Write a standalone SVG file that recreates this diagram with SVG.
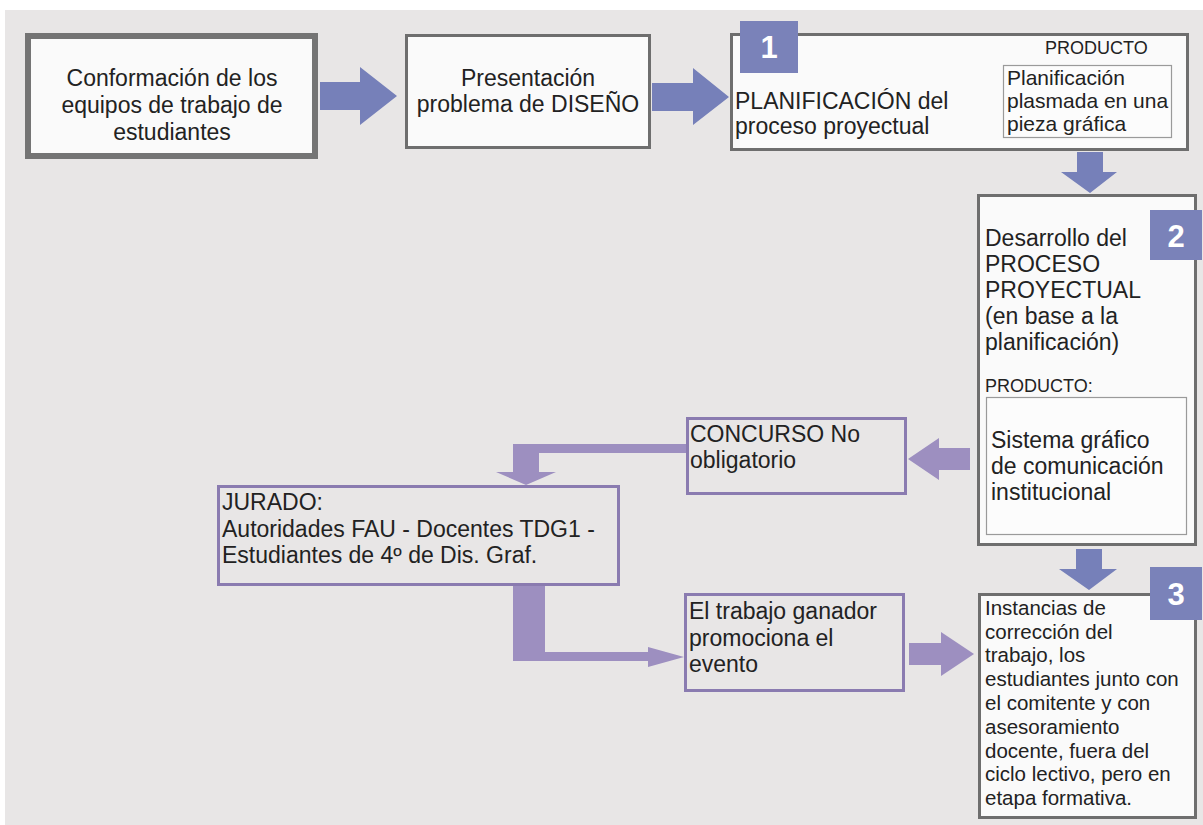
<svg xmlns="http://www.w3.org/2000/svg" width="1203" height="825" viewBox="0 0 1203 825">
<style>
text{font-family:"Liberation Sans",Arial,sans-serif;fill:#222;}
.t23{font-size:23px;}
.t21{font-size:21px;}
.t20{font-size:20.5px;}
.t18{font-size:18px;}
.gbox{fill:#fafafa;stroke:#6e6e6e;stroke-width:3;}
.pbox{fill:none;stroke:#8a7bb0;stroke-width:3;}
.ibox{fill:#fcfcfc;stroke:#9a9a9a;stroke-width:1.2;}
.badge{fill:#7a82b9;}
.num{font-size:31px;font-weight:bold;fill:#fff;text-anchor:middle;}
.blue{fill:#7680b9;}
.purple{fill:#9d8fc0;}
</style>
<rect x="0" y="0" width="1203" height="825" fill="#ffffff"/>
<rect x="5" y="10" width="1198" height="815" fill="#e8e6e6"/>

<g id="connectors">
<polygon class="blue" points="320,82 360,82 360,67 397,96 360,125 360,110 320,110"/>
<polygon class="blue" points="652,83 693,83 693,68 729,97 693,125 693,111 652,111"/>
<polygon class="blue" points="1077,152 1103,152 1103,172 1117,172 1090,193 1061,172 1077,172"/>
<polygon class="blue" points="1076,549 1102,549 1102,569 1117,569 1089,590 1059,569 1076,569"/>
<polygon class="purple" points="970,448 939,448 939,438 908,459 939,480 939,470 970,470"/>
<polygon class="purple" points="686,444 686,453 539,453 539,472 556,472 526,485 496,472 513,472 513,444"/>
<polygon class="purple" points="513,585 545,585 545,652 648,652 648,647 684,657 648,667 648,661 513,661"/>
<polygon class="purple" points="909,643 941,643 941,632 974,654 941,676 941,665 909,665"/>
</g>

<g id="node-conformacion">
<rect x="28" y="36" width="287" height="120" fill="#fafafa" stroke="#747474" stroke-width="6"/>
<text class="t23" text-anchor="middle" x="172" y="86">Conformación de los</text>
<text class="t23" text-anchor="middle" x="172" y="113">equipos de trabajo de</text>
<text class="t23" text-anchor="middle" x="172" y="140">estudiantes</text>
</g>

<g id="node-presentacion">
<rect class="gbox" x="406.5" y="35.5" width="243" height="112"/>
<text class="t23" text-anchor="middle" x="528" y="86">Presentación</text>
<text class="t23" text-anchor="middle" x="528" y="112">problema de DISEÑO</text>
</g>

<g id="node-planificacion">
<rect class="gbox" x="731.5" y="34.5" width="456" height="115"/>
<rect class="badge" x="740" y="21" width="58" height="52"/>
<text class="num" x="769" y="58">1</text>
<text class="t23" x="735" y="109">PLANIFICACIÓN del</text>
<text class="t23" x="735" y="134">proceso proyectual</text>
<text class="t18" x="1045" y="54">PRODUCTO</text>
<rect class="ibox" x="1003.5" y="65.5" width="168" height="72"/>
<text class="t21" x="1007" y="85">Planificación</text>
<text class="t21" x="1007" y="108">plasmada en una</text>
<text class="t21" x="1007" y="131">pieza gráfica</text>
</g>

<g id="node-desarrollo">
<rect class="gbox" x="978.5" y="195.5" width="217" height="349"/>
<rect class="badge" x="1150" y="210" width="52" height="50"/>
<text class="num" x="1176" y="247">2</text>
<text class="t23" x="985" y="246">Desarrollo del</text>
<text class="t23" x="985" y="272">PROCESO</text>
<text class="t23" x="985" y="298">PROYECTUAL</text>
<text class="t23" x="985" y="324">(en base a la</text>
<text class="t23" x="985" y="350">planificación)</text>
<text class="t18" x="985" y="392">PRODUCTO:</text>
<rect class="ibox" x="986.5" y="397.5" width="200" height="137"/>
<text class="t23" x="991" y="448">Sistema gráfico</text>
<text class="t23" x="991" y="474">de comunicación</text>
<text class="t23" x="991" y="500">institucional</text>
</g>

<g id="node-concurso">
<rect class="pbox" x="687.5" y="418.5" width="218" height="75"/>
<text class="t23" x="690" y="442">CONCURSO No</text>
<text class="t23" x="690" y="468">obligatorio</text>
</g>

<g id="node-jurado">
<rect class="pbox" x="218.5" y="486.5" width="400" height="98"/>
<text class="t23" x="222" y="510">JURADO:</text>
<text class="t23" x="222" y="537">Autoridades FAU - Docentes TDG1 -</text>
<text class="t23" x="222" y="563">Estudiantes de 4º de Dis. Graf.</text>
</g>

<g id="node-ganador">
<rect class="pbox" x="685.5" y="594.5" width="218" height="96"/>
<text class="t23" x="689" y="619">El trabajo ganador</text>
<text class="t23" x="689" y="646">promociona el</text>
<text class="t23" x="689" y="672">evento</text>
</g>

<g id="node-instancias">
<rect class="gbox" x="979.5" y="594.5" width="216" height="223"/>
<rect class="badge" x="1150" y="567" width="52" height="53"/>
<text class="num" x="1176" y="605">3</text>
<text class="t20" x="985" y="615">Instancias de</text>
<text class="t20" x="985" y="639">corrección del</text>
<text class="t20" x="985" y="662">trabajo, los</text>
<text class="t20" x="985" y="686">estudiantes junto con</text>
<text class="t20" x="985" y="710">el comitente y con</text>
<text class="t20" x="985" y="734">asesoramiento</text>
<text class="t20" x="985" y="758">docente, fuera del</text>
<text class="t20" x="985" y="781">ciclo lectivo, pero en</text>
<text class="t20" x="985" y="805">etapa formativa.</text>
</g>
</svg>
